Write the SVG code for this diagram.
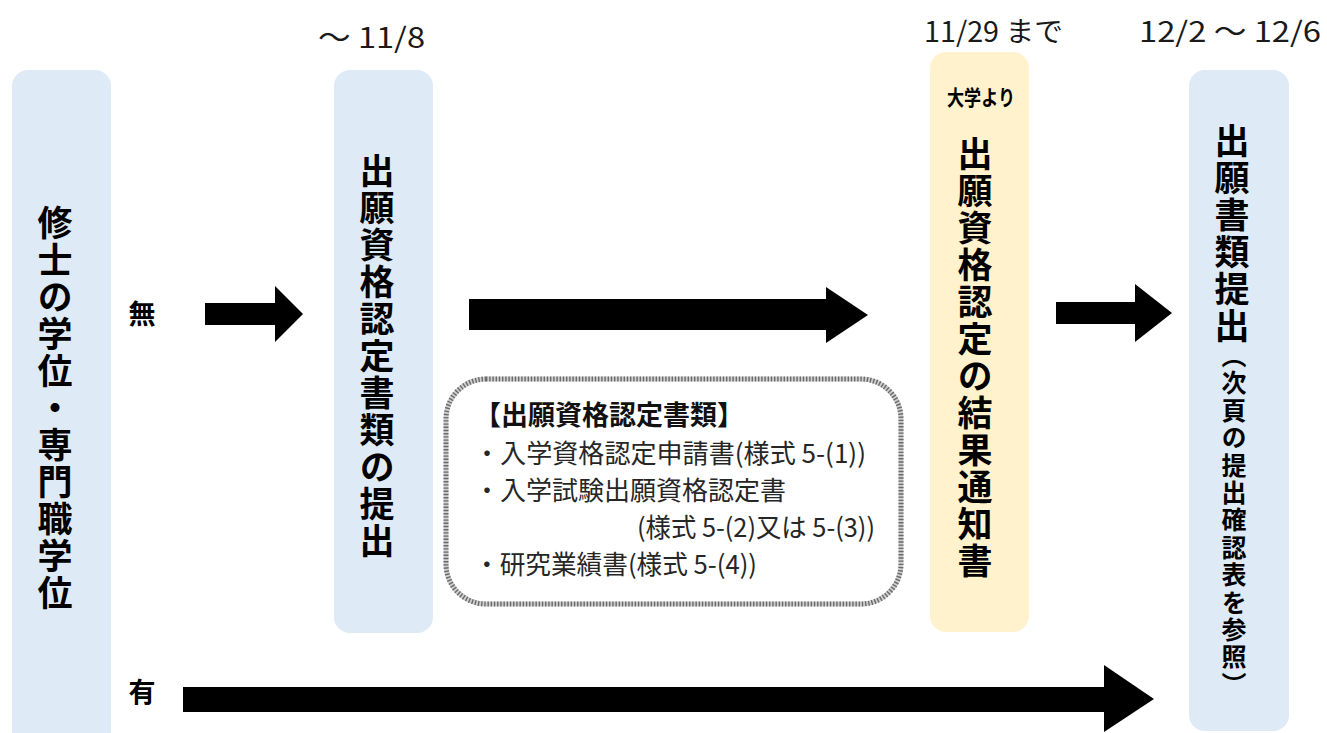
<svg xmlns="http://www.w3.org/2000/svg" width="1327" height="733" viewBox="0 0 1327 733">
<style>
.blue{fill:#DEEAF6}
.yellow{fill:#FFF2CC}
.vbig{font-family:"Noto Sans CJK JP","Noto Sans",sans-serif;font-weight:700;font-size:35px;letter-spacing:2px;fill:#000;writing-mode:vertical-rl}
.vsmall{font-family:"Noto Sans CJK JP","Noto Sans",sans-serif;font-weight:700;font-size:25px;letter-spacing:2.4px;fill:#000;writing-mode:vertical-rl}
.date{font-family:"Noto Sans CJK JP","Noto Sans",sans-serif;font-weight:400;font-size:28px;fill:#1a1a1a}
.lbl{font-family:"Noto Sans CJK JP","Noto Sans",sans-serif;font-weight:700;font-size:27px;fill:#000}
.list{font-family:"Noto Sans CJK JP","Noto Sans",sans-serif;font-weight:400;font-size:26px;fill:#262626}
.title{font-family:"Noto Sans CJK JP","Noto Sans",sans-serif;font-weight:700;font-size:27px;fill:#111}
.arrow{fill:#000}
</style>
<rect width="1327" height="733" fill="#fff"/>

<g id="dates">
<text class="date" x="318" y="48" textLength="107" lengthAdjust="spacingAndGlyphs">～ 11/8</text>
<text class="date" x="924" y="42" textLength="139" lengthAdjust="spacingAndGlyphs">11/29 まで</text>
<text class="date" x="1139" y="42" textLength="182" lengthAdjust="spacingAndGlyphs">12/2 ～ 12/6</text>
</g>

<g id="node-degree">
<rect class="blue" x="12" y="70" width="99" height="680" rx="16"/>
<text class="vbig" x="55" y="205">修士の学位・専門職学位</text>
</g>

<g id="node-submit">
<rect class="blue" x="334" y="70" width="99" height="563" rx="16"/>
<text class="vbig" x="377" y="153">出願資格認定書類の提出</text>
</g>

<g id="node-result">
<rect class="yellow" x="930" y="52" width="99" height="580" rx="16"/>
<text class="lbl" x="981" y="105" text-anchor="middle" textLength="68" lengthAdjust="spacingAndGlyphs" style="font-size:21px">大学より</text>
<text class="vbig" x="975" y="136">出願資格認定の結果通知書</text>
</g>

<g id="node-final">
<rect class="blue" x="1189" y="70" width="100" height="661" rx="16"/>
<text class="vbig" x="1232" y="123">出願書類提出</text>
<text class="vsmall" x="1234" y="343">（次頁の提出確認表を参照）</text>
</g>

<g id="node-docs">
<rect x="446" y="379" width="455" height="225" rx="40" fill="#fff" stroke="#cfcfcf" stroke-width="5"/>
<rect x="446" y="379" width="455" height="225" rx="40" fill="none" stroke="#6a6a6a" stroke-width="5" stroke-dasharray="1.4 1.8"/>
<text class="title" x="474" y="425">【出願資格認定書類】</text>
<text class="list" x="474" y="463" textLength="392" lengthAdjust="spacingAndGlyphs">・入学資格認定申請書(様式 5-(1))</text>
<text class="list" x="474" y="500">・入学試験出願資格認定書</text>
<text class="list" x="637" y="537" textLength="238" lengthAdjust="spacingAndGlyphs">(様式 5-(2)又は 5-(3))</text>
<text class="list" x="474" y="574" textLength="283" lengthAdjust="spacingAndGlyphs">・研究業績書(様式 5-(4))</text>
</g>

<g id="connectors">
<polygon class="arrow" points="205,303 275,303 275,286 303,314 275,342 275,325 205,325"/>
<polygon class="arrow" points="469,299 826,299 826,287 868,315 826,343 826,330 469,330"/>
<polygon class="arrow" points="1056,302 1135,302 1135,284 1172,313 1135,342 1135,324 1056,324"/>
<polygon class="arrow" points="183,687 1104,687 1104,665 1154,699 1104,732 1104,712 183,712"/>
<text class="lbl" x="142" y="324" text-anchor="middle">無</text>
<text class="lbl" x="142" y="702" text-anchor="middle">有</text>
</g>
</svg>
